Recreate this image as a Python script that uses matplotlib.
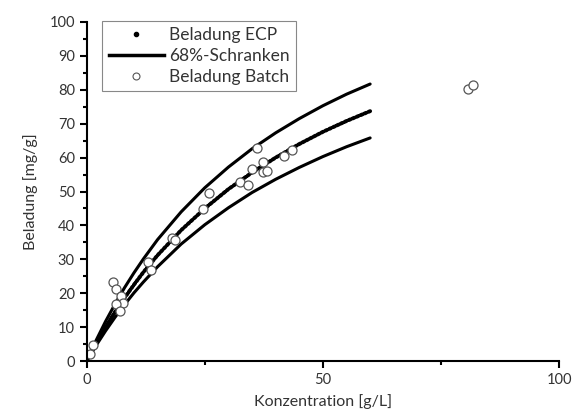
import matplotlib.pyplot as plt
from matplotlib.lines import Line2D
from matplotlib.ticker import MultipleLocator

# curves
c_kurve = [0, 2, 4, 6, 8, 10, 12, 15, 20, 25, 30, 35, 40, 45, 50, 55, 60]
q_ecp = [0, 5.2, 10.0, 14.5, 18.6, 22.5, 26.2, 31.2, 38.6, 45.0, 50.7, 55.6, 60.0, 64.0, 67.6, 70.8, 73.7]
q_oben = [0, 6.1, 11.7, 16.8, 21.6, 26.0, 30.1, 35.8, 44.0, 51.1, 57.2, 62.6, 67.3, 71.5, 75.3, 78.7, 81.7]
q_unten = [0, 4.6, 8.9, 12.9, 16.6, 20.1, 23.3, 27.8, 34.5, 40.2, 45.2, 49.7, 53.6, 57.1, 60.3, 63.2, 65.8]

# batch points
c_batch = [0.7, 1.3, 5.6, 6.2, 7.2, 7.6, 6.3, 7.0, 13.0, 13.6, 18.0, 18.7, 24.7, 25.9,
           32.4, 34.2, 35.0, 36.0, 37.4, 37.4, 38.2, 41.7, 43.4, 80.8, 81.8]
q_batch = [2.2, 4.6, 23.2, 21.2, 19.2, 17.0, 16.7, 14.8, 29.3, 26.8, 36.3, 35.8, 44.8, 49.5,
           52.9, 51.9, 56.6, 62.9, 58.8, 55.8, 56.1, 60.4, 62.2, 80.1, 81.4]

plt.rcParams['font.family'] = ['Lato', 'DejaVu Sans']
txt = '#333333'

fig = plt.figure(figsize=(5.83, 4.19), dpi=100)
ax = fig.add_axes([0.1487, 0.1384, 0.8103, 0.8091])

ax.plot(c_kurve, q_oben, color='k', lw=2.2, solid_capstyle='round')
ax.plot(c_kurve, q_unten, color='k', lw=2.2, solid_capstyle='round')
ax.plot(c_kurve, q_ecp, color='k', lw=2.8, ls=(0, (0.5, 0.6)), dash_capstyle='round')
ax.plot(c_batch, q_batch, ls='none', marker='o', ms=6.5, mfc='white', mec='#555555', mew=0.9)

ax.set_xlim(0, 100)
ax.set_ylim(0, 100)
ax.spines['top'].set_visible(False)
ax.spines['right'].set_visible(False)
ax.spines['left'].set_linewidth(1.5)
ax.spines['bottom'].set_linewidth(1.5)
ax.xaxis.set_major_locator(MultipleLocator(50))
ax.xaxis.set_minor_locator(MultipleLocator(25))
ax.yaxis.set_major_locator(MultipleLocator(10))
ax.yaxis.set_minor_locator(MultipleLocator(5))
ax.tick_params(which='major', length=5, width=1.5, labelsize=10.5, labelcolor=txt)
ax.tick_params(which='minor', length=3, width=1.5)

ax.set_xlabel('Konzentration [g/L]', fontsize=11.5, color=txt, labelpad=5)
ax.set_ylabel('Beladung [mg/g]', fontsize=11.5, color=txt, labelpad=8)

handles = [
    Line2D([], [], ls='none', marker='.', color='k', ms=6),
    Line2D([], [], color='k', lw=2.5),
    Line2D([], [], ls='none', marker='o', ms=5, mfc='white', mec='#555555', mew=0.8),
]
labels = ['Beladung ECP', '68%-Schranken', 'Beladung Batch']
leg = ax.legend(handles, labels, loc='upper left', bbox_to_anchor=(0.015, 1.03),
                fontsize=12.5, fancybox=False, edgecolor='#888888', framealpha=1,
                handlelength=3.2, handletextpad=0.3, borderpad=0.35, labelspacing=0.3)
for t in leg.get_texts():
    t.set_color(txt)
leg.get_frame().set_linewidth(0.8)

fig.savefig('out.png', dpi=100)
